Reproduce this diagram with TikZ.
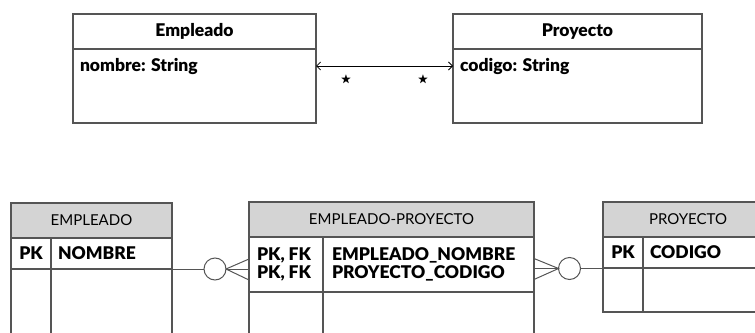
\documentclass[tikz,border=0pt]{standalone}
\usepackage{amssymb}
\usepackage{fontspec}
\setmainfont{Lato}[BoldFont={Lato Black}]
\usepackage{xcolor}
\usepackage{tikz}
\usetikzlibrary{positioning,calc,arrows.meta}

\definecolor{linegray}{RGB}{85,85,85}
\definecolor{headgray}{RGB}{212,212,212}

\tikzset{
    every node/.style={inner sep=0pt, outer sep=0pt},
    ln/.style={draw=linegray, line width=1.3pt},
    classhead/.style={ln, anchor=north west, minimum height=35pt, font=\fontsize{17.5}{18}\selectfont\bfseries},
    classbody/.style={ln, anchor=north, minimum height=74pt},
    tablehead/.style={ln, anchor=north west, fill=headgray, minimum height=35pt, font=\fontsize{15}{18}\selectfont},
    tablerow/.style={ln, anchor=north},
    keytext/.style={font=\fontsize{17.5}{18}\selectfont\bfseries},
    assoc/.style={draw=black, line width=0.8pt, {Straight Barb[length=4pt,width=8pt]}-{Straight Barb[length=4pt,width=8pt]}},
    crow/.style={draw=linegray, line width=1pt},
    ring/.style={circle, draw=linegray, line width=1pt, fill=white, minimum size=22pt}
}

\begin{document}
\begin{tikzpicture}[x=1pt, y=-1pt]
    \clip (0,0) rectangle (755,332);

    % Clases (UML)
    \node[classhead, minimum width=243pt] (emp) at (73,14) {Empleado};
    \node[classbody, minimum width=243pt, below=0pt of emp] (empbody) {};
    \node[keytext, anchor=west] (empattr) at ($(empbody.north west)+(7,17)$) {nombre: String};

    \node[classhead, minimum width=249pt] (proy) at (453,14) {Proyecto};
    \node[classbody, minimum width=249pt, below=0pt of proy] (proybody) {};
    \node[keytext, anchor=west] (proyattr) at ($(proybody.north west)+(7,17)$) {codigo: String};

    \draw[assoc] (empattr -| empbody.east) -- (proyattr -| proybody.west);
    \node (mult1) at (346,80) {\fontsize{11}{11}\selectfont$\bigstar$};
    \node (mult2) at (423,80) {\fontsize{11}{11}\selectfont$\bigstar$};

    % Tablas (relacional)
    \node[tablehead, minimum width=161pt] (emph) at (11,203) {EMPLEADO};
    \node[tablerow, minimum width=161pt, minimum height=31pt, below=0pt of emph] (empk) {};
    \draw[ln] (empk.south west) -- ++(0,80);
    \draw[ln] (empk.south east) -- ++(0,80);
    \draw[ln] ($(emph.south west)+(40,0)$) -- ++(0,120);
    \node[keytext] at ($(empk.west)+(20,0)$) {PK};
    \node[keytext, anchor=west] at ($(empk.west)+(47,0)$) {NOMBRE};

    \node[tablehead, minimum width=285pt] (eph) at (249,202) {EMPLEADO-PROYECTO};
    \node[tablerow, minimum width=285pt, minimum height=55pt, below=0pt of eph] (epk) {};
    \draw[ln] (epk.south west) -- ++(0,60);
    \draw[ln] (epk.south east) -- ++(0,60);
    \draw[ln] ($(eph.south west)+(74,0)$) -- ++(0,120);
    \node[keytext, anchor=west, align=left] at ($(epk.west)+(8,0)$) {PK, FK\\PK, FK};
    \node[keytext, anchor=west, align=left] at ($(epk.west)+(83,0)$) {EMPLEADO\_NOMBRE\\PROYECTO\_CODIGO};

    \node[tablehead, minimum width=170pt] (proyh) at (603,202) {PROYECTO};
    \node[tablerow, minimum width=170pt, minimum height=31pt, below=0pt of proyh] (proyk) {};
    \draw[ln] (proyk.south west) -- ++(0,44) -- ++(170,0);
    \draw[ln] ($(proyh.south west)+(40,0)$) -- ++(0,75);
    \node[keytext] at ($(proyk.west)+(20,0)$) {PK};
    \node[keytext, anchor=west] at ($(proyk.west)+(47,0)$) {CODIGO};

    % Cardinalidades
    \node[ring] (o1) at (215,269) {};
    \draw[crow] (empk.south east) -- (o1.west);
    \coordinate (f1) at (o1 -| epk.west);
    \draw[crow] ($(f1)+(0,-10)$) -- (o1.east) -- ($(f1)+(0,11)$);
    \draw[crow] (o1.east) -- (f1);

    \node[ring] (o2) at (569.5,268.5) {};
    \coordinate (f2) at (o2 -| epk.east);
    \draw[crow] ($(f2)+(0,-10)$) -- (o2.west) -- ($(f2)+(0,11)$);
    \draw[crow] (f2) -- (o2.west);
    \draw[crow] (o2.east) -- (o2 -| proyk.west);
\end{tikzpicture}
\end{document}
